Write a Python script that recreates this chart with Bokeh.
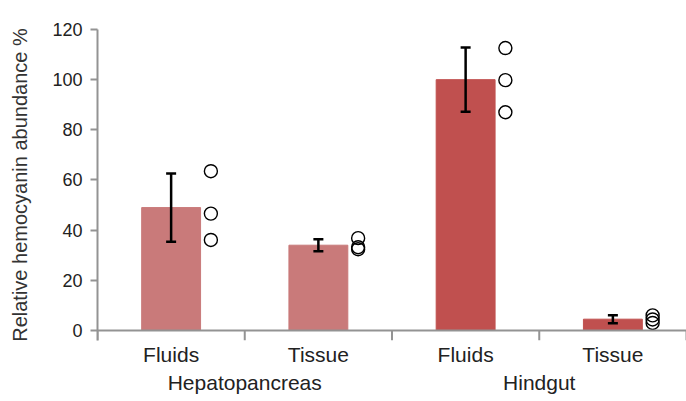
from bokeh.plotting import figure
from bokeh.models import (ColumnDataSource, FactorRange, FixedTicker, Whisker,
                          TeeHead, Span)
from bokeh.transform import dodge
from bokeh.embed import file_html
from bokeh.resources import INLINE

# Relative hemocyanin abundance by organ and sample type
organs = ["Hepatopancreas", "Hepatopancreas", "Hindgut", "Hindgut"]
samples = ["Fluids", "Tissue", "Fluids", "Tissue"]
means = [49.0, 34.0, 100.0, 4.5]
sd = [13.6, 2.4, 12.8, 1.6]
bar_colors = ["#C97A7A", "#C97A7A", "#C0504F", "#C0504F"]

# Individual replicates (three per condition)
replicates = [
    [63.5, 46.6, 36.1],
    [36.8, 33.2, 32.4],
    [112.6, 99.8, 87.0],
    [6.0, 4.4, 3.0],
]

y_ticks = [0, 20, 40, 60, 80, 100, 120]

FONT = "Liberation Sans"

factors = list(zip(organs, samples))

bar_src = ColumnDataSource(dict(
    x=factors,
    mean=means,
    upper=[m + s for m, s in zip(means, sd)],
    lower=[m - s for m, s in zip(means, sd)],
    color=bar_colors,
))

pt_x, pt_y = [], []
for f, reps in zip(factors, replicates):
    for r in reps:
        pt_x.append(f)
        pt_y.append(r)
pt_src = ColumnDataSource(dict(x=pt_x, y=pt_y))

x_range = FactorRange(*factors, factor_padding=0, group_padding=0,
                      subgroup_padding=0, range_padding=0)

p = figure(width=686, height=401, x_range=x_range, y_range=(-4, 120),
           output_backend="svg", toolbar_location=None,
           min_border_left=97, min_border_right=0, min_border_top=29,
           min_border_bottom=61)
p.outline_line_color = None
p.grid.grid_line_color = None
p.background_fill_color = "white"

p.vbar(x="x", top="mean", bottom=0, width=0.4, source=bar_src,
       fill_color="color", line_color="color", line_width=1)

head_kw = dict(size=10, line_width=2.5, line_color="black")
whisker = Whisker(source=bar_src, base="x", upper="upper", lower="lower",
                  line_color="black", line_width=2.5, level="overlay",
                  upper_head=TeeHead(**head_kw), lower_head=TeeHead(**head_kw))
p.add_layout(whisker)

p.scatter(x=dodge("x", 0.27, range=p.x_range), y="y", source=pt_src,
          size=13, fill_color=None, line_color="black", line_width=1.4)

# Baseline at zero and category boundary ticks
axis_gray = "#939393"
p.add_layout(Span(location=0, dimension="width", line_color=axis_gray,
                  line_width=2))
n = len(factors)
p.segment(x0=list(range(n + 1)), y0=[0] * (n + 1),
          x1=list(range(n + 1)), y1=[-4] * (n + 1),
          line_color=axis_gray, line_width=2)

# Y axis
ya = p.yaxis[0]
ya.ticker = FixedTicker(ticks=y_ticks)
ya.axis_label = "Relative hemocyanin abundance %"
ya.axis_label_text_font = FONT
ya.axis_label_text_font_size = "20px"
ya.axis_label_text_font_style = "normal"
ya.axis_label_text_color = "#333333"
ya.axis_label_standoff = 18
ya.major_label_text_font = FONT
ya.major_label_text_font_size = "18px"
ya.major_label_text_color = "#222222"
ya.major_label_standoff = 8
ya.axis_line_color = axis_gray
ya.axis_line_width = 2
ya.major_tick_line_color = axis_gray
ya.major_tick_line_width = 2
ya.major_tick_out = 7
ya.major_tick_in = 0
ya.minor_tick_line_color = None

# X axis: category and organ labels
xa = p.xaxis[0]
xa.axis_line_color = None
xa.major_tick_line_color = None
xa.minor_tick_line_color = None
xa.major_tick_out = 0
xa.major_label_text_font = FONT
xa.major_label_text_font_size = "21px"
xa.major_label_text_color = "#222222"
xa.major_label_standoff = 2
xa.group_text_font = FONT
xa.group_text_font_size = "21px"
xa.group_text_font_style = "normal"
xa.group_text_color = "#222222"
xa.separator_line_color = None

open("out.html", "w").write(file_html(p, INLINE))
